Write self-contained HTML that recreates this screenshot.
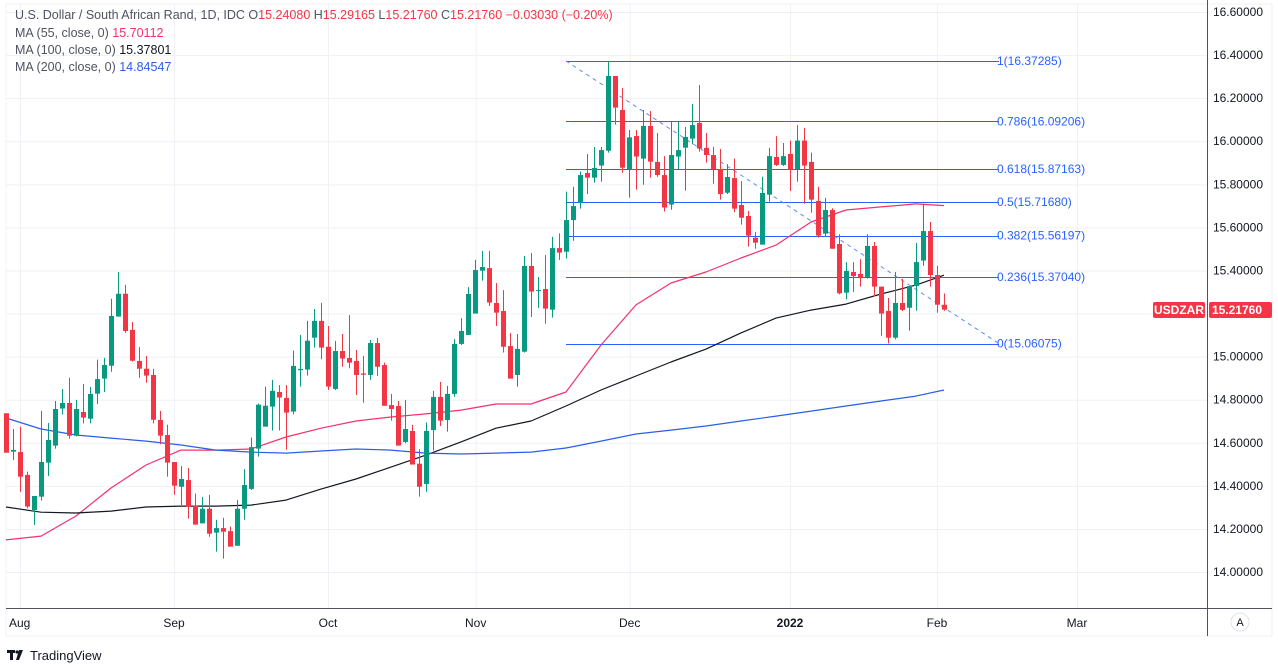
<!DOCTYPE html>
<html><head><meta charset="utf-8">
<style>
html,body{margin:0;padding:0;background:#fff;width:1278px;height:665px;overflow:hidden;font-family:"Liberation Sans",sans-serif;}
svg{position:absolute;left:0;top:0}
text{font-family:"Liberation Sans",sans-serif}
</style></head>
<body>
<svg id="chart" width="1278" height="665">
  <rect x="6" y="4" width="1266" height="632" fill="none" stroke="#eef1f5" stroke-width="1"/>
  <g id="grid"></g>
  <g id="fib"></g>
  <g id="mas"></g>
  <g id="candles"></g>
  <line x1="1207.5" y1="0" x2="1207.5" y2="636" stroke="#50535e" stroke-width="1"/>
  <line x1="6" y1="608.5" x2="1272" y2="608.5" stroke="#50535e" stroke-width="1"/>
  <g id="yaxis"></g>
  <g id="xaxis"></g>
  <rect x="1153" y="302" width="52" height="16" rx="2" fill="#f23645"/>
  <text x="1179" y="314" font-size="12" font-weight="bold" fill="#fff" text-anchor="middle">USDZAR</text>
  <rect x="1209" y="302" width="63" height="16" rx="2" fill="#f23645"/>
  <text x="1262" y="314" font-size="12" font-weight="bold" fill="#fff" text-anchor="end">15.21760</text>
  <circle cx="1240" cy="622" r="9" fill="#fff" stroke="#e0e3eb"/>
  <text x="1240" y="626" font-size="11" fill="#131722" text-anchor="middle">A</text>
  <g font-size="12.5">
    <text x="15" y="19" fill="#50535e">U.S. Dollar / South African Rand, 1D, IDC  O<tspan fill="#f23645">15.24080</tspan>  H<tspan fill="#f23645">15.29165</tspan>  L<tspan fill="#f23645">15.21760</tspan>  C<tspan fill="#f23645">15.21760  −0.03030 (−0.20%)</tspan></text>
    <text x="15" y="37" fill="#50535e">MA (55, close, 0)  <tspan fill="#f7306b">15.70112</tspan></text>
    <text x="15" y="54" fill="#50535e">MA (100, close, 0)  <tspan fill="#131722">15.37801</tspan></text>
    <text x="15" y="71" fill="#50535e">MA (200, close, 0)  <tspan fill="#2a5ee8">14.84547</tspan></text>
  </g>
  <g>
    <rect x="7" y="650" width="8" height="3" fill="#131722"/>
    <rect x="10" y="650" width="3" height="10" fill="#131722"/>
    <circle cx="17" cy="652" r="1.6" fill="#131722"/>
    <polygon points="19,650 23,650 19,660 16,660" fill="#131722"/>
    <text x="30" y="660" font-size="13" fill="#131722">TradingView</text>
  </g>
</svg>
<script>
const opens=[14.737,14.559,14.557,14.451,14.288,14.350,14.508,14.587,14.759,14.785,
14.633,14.743,14.712,14.828,14.898,14.958,15.186,15.292,15.124,14.980,
14.944,14.915,14.706,14.636,14.511,14.396,14.427,14.308,14.226,14.294,
14.183,14.204,14.190,14.122,14.294,14.386,14.573,14.675,14.768,14.836,
14.808,14.745,14.937,14.940,15.088,15.166,15.046,14.850,15.026,14.994,
14.980,14.922,14.915,15.063,14.961,14.775,14.771,14.604,14.655,14.503,
14.409,14.659,14.813,14.706,14.827,15.059,15.101,15.200,15.399,15.411,
15.249,15.212,15.049,14.915,15.023,15.421,15.306,15.314,15.218,15.504,
15.487,15.634,15.716,15.853,15.831,15.887,15.956,16.303,16.145,15.871,
16.024,15.919,16.071,15.904,15.843,15.706,15.929,15.970,16.012,16.085,
15.969,15.936,15.871,15.761,15.829,15.704,15.653,15.552,15.520,15.752,
15.927,15.890,15.941,15.871,16.003,15.904,15.723,15.571,15.681,15.523,
15.297,15.393,15.384,15.370,15.514,15.325,15.212,15.088,15.249,15.227,
15.328,15.446,15.583,15.379,15.241];
const highs=[14.737,14.664,14.675,14.466,14.353,14.748,14.692,14.794,14.850,14.902,
14.799,14.873,14.859,14.986,14.994,15.269,15.393,15.334,15.161,15.045,
15.003,14.943,14.748,14.684,14.511,14.492,14.483,14.364,14.348,14.358,
14.242,14.252,14.211,14.335,14.478,14.624,14.782,14.861,14.892,14.868,
14.868,15.028,15.101,15.166,15.221,15.249,15.142,15.073,15.105,15.193,
15.031,15.003,15.077,15.087,14.972,14.827,14.794,14.799,14.683,14.570,
14.694,14.841,14.882,14.864,15.082,15.179,15.323,15.449,15.491,15.491,
15.342,15.309,15.110,15.105,15.467,15.481,15.370,15.472,15.556,15.572,
15.766,15.789,15.859,15.941,15.973,15.973,16.373,16.303,16.247,16.052,
16.052,16.145,16.140,16.038,15.931,16.091,16.091,16.066,16.173,16.261,
16.038,15.973,15.964,15.894,15.919,15.815,15.676,15.579,15.835,15.969,
16.024,15.992,16.003,16.075,16.062,15.947,15.789,15.737,15.689,15.568,
15.439,15.439,15.453,15.569,15.532,15.325,15.272,15.393,15.361,15.328,
15.528,15.709,15.625,15.422,15.293];
const lows=[14.554,14.520,14.373,14.296,14.219,14.332,14.446,14.573,14.732,14.619,
14.629,14.690,14.690,14.780,14.836,14.930,15.186,15.111,14.977,14.902,
14.879,14.690,14.593,14.443,14.359,14.311,14.248,14.220,14.226,14.164,
14.095,14.062,14.118,14.122,14.243,14.381,14.536,14.675,14.657,14.657,
14.568,14.732,14.861,14.912,15.042,14.988,14.845,14.845,14.953,14.946,
14.822,14.786,14.892,14.910,14.772,14.703,14.587,14.598,14.499,14.350,
14.373,14.564,14.678,14.652,14.814,15.054,15.101,15.200,15.353,15.235,
15.142,15.019,14.898,14.861,15.019,15.184,15.226,15.153,15.181,15.449,
15.456,15.538,15.687,15.755,15.808,15.812,15.947,16.077,15.854,15.738,
15.775,15.798,15.831,15.835,15.673,15.682,15.871,15.771,15.986,15.952,
15.901,15.803,15.729,15.755,15.671,15.613,15.511,15.501,15.520,15.719,
15.885,15.885,15.769,15.812,15.710,15.668,15.552,15.560,15.501,15.289,
15.266,15.300,15.325,15.362,15.279,15.097,15.061,15.080,15.212,15.121,
15.213,15.422,15.325,15.204,15.213];
const closes=[14.554,14.567,14.443,14.304,14.353,14.511,14.613,14.757,14.785,14.633,
14.757,14.717,14.827,14.896,14.961,15.189,15.292,15.119,14.981,14.944,
14.912,14.707,14.633,14.508,14.401,14.432,14.304,14.220,14.294,14.178,
14.204,14.187,14.118,14.294,14.404,14.580,14.777,14.772,14.841,14.810,
14.740,14.957,14.943,15.074,15.166,15.042,14.861,15.026,14.991,14.972,
14.915,14.916,15.063,14.953,14.772,14.757,14.587,14.664,14.499,14.396,
14.655,14.813,14.703,14.827,15.059,15.119,15.291,15.402,15.416,15.251,
15.204,15.046,14.898,15.036,15.421,15.302,15.309,15.223,15.504,15.483,
15.634,15.699,15.843,15.831,15.876,15.959,16.303,16.156,15.877,16.018,
15.929,16.071,15.905,15.843,15.692,15.936,15.959,16.020,16.075,15.966,
15.936,15.871,15.755,15.834,15.687,15.645,15.562,15.529,15.760,15.931,
15.890,15.931,15.871,16.003,15.887,15.729,15.562,15.681,15.501,15.294,
15.398,15.374,15.368,15.514,15.325,15.200,15.088,15.249,15.217,15.328,
15.439,15.583,15.379,15.241,15.218];
const maIndex=[0,5,10,15,20,25,30,35,40,45,50,55,60,65,70,75,80,85,90,95,100,105,110,115,120,125,130,134];
const ma55=[14.149,14.167,14.260,14.390,14.497,14.566,14.566,14.571,14.627,14.668,14.701,14.720,14.734,14.752,14.780,14.780,14.836,15.054,15.240,15.342,15.393,15.458,15.518,15.625,15.681,15.695,15.709,15.701];
const ma100=[14.302,14.278,14.274,14.283,14.302,14.306,14.306,14.311,14.334,14.385,14.432,14.487,14.543,14.604,14.668,14.701,14.771,14.845,14.910,14.975,15.035,15.110,15.179,15.216,15.244,15.291,15.332,15.378];
const ma200=[14.715,14.664,14.636,14.622,14.608,14.590,14.566,14.557,14.552,14.562,14.571,14.566,14.552,14.548,14.552,14.557,14.576,14.608,14.641,14.659,14.678,14.701,14.724,14.747,14.771,14.794,14.817,14.845];
const yTicks=[14.0,14.2,14.4,14.6,14.8,15.0,15.2,15.4,15.6,15.8,16.0,16.2,16.4,16.6];
const monthLabels=["Aug","Sep","Oct","Nov","Dec","2022","Feb","Mar"];
const monthIndex=[2,24,46,67.1,89.1,112,133,153];
const fibRatios=["0","0.236","0.382","0.5","0.618","0.786","1"];
const fibPrices=[15.06075,15.37040,15.56197,15.71680,15.87163,16.09206,16.37285];
const fibStart=80, fibEnd=141;

const NS="http://www.w3.org/2000/svg";
function X(i){return 6+7*i;}
function Y(p){return 12+(16.6-p)*215.4;}
function mk(tag,attrs,parent){const e=document.createElementNS(NS,tag);for(const k in attrs)e.setAttribute(k,attrs[k]);parent.appendChild(e);return e;}

const grid=document.getElementById('grid'),yaxis=document.getElementById('yaxis'),xaxis=document.getElementById('xaxis');
yTicks.forEach(v=>{
  const l=mk('line',{x1:6,x2:1207,y1:Y(v)+0.5,y2:Y(v)+0.5,stroke:'#eef1f5'},grid);
  
  
  const t=mk('text',{x:1263,y:Y(v)+4,'font-size':12,fill:'#131722','text-anchor':'end'},yaxis);
  t.textContent=v.toFixed(5);
  
  
});
monthLabels.forEach((m,k)=>{
  const x=X(monthIndex[k]);
  const l=mk('line',{x1:x+0.5,x2:x+0.5,y1:4,y2:608,stroke:'#eef1f5'},grid);
  
  
  const t=mk('text',{x:k===0?9:x,y:627,'font-size':12,fill:'#131722','text-anchor':k===0?'start':'middle','font-weight':m==='2022'?'bold':'normal'},xaxis);
  t.textContent=m;
  
  
});

const fib=document.getElementById('fib');
fibPrices.forEach((p,k)=>{
  const l=mk('line',{x1:X(fibStart),x2:X(fibEnd)+6,y1:Math.round(Y(p))+0.5,y2:Math.round(Y(p))+0.5,stroke:'#2962ff','stroke-width':1},fib);
  
  
  const t=mk('text',{x:997,y:Y(p)+4,'font-size':12,fill:'#2962ff'},fib);
  t.textContent=fibRatios[k]+'('+p.toFixed(5)+')';
  
  
});
const tl=mk('line',{x1:X(fibStart),y1:Y(fibPrices[6]),x2:X(fibEnd)+6,y2:Y(fibPrices[0]),stroke:'#5b8cf5','stroke-width':1,'stroke-dasharray':'4,4'},fib);



const mas=document.getElementById('mas');
[[ma55,'#f7306b','ma55-line'],[ma100,'#131722','ma100-line'],[ma200,'#2a5ee8','ma200-line']].forEach(([arr,c,n])=>{
  let d='';
  arr.forEach((v,k)=>{d+=(k?'L':'M')+X(maIndex[k]).toFixed(1)+','+Y(v).toFixed(1);});
  const p=mk('path',{d:d,fill:'none',stroke:c,'stroke-width':1.2,'stroke-linejoin':'round'},mas);
  
  
});

const cg=document.getElementById('candles');
opens.forEach((o,i)=>{
  const c=closes[i],up=c>=o,col=up?'#089981':'#f23645',x=X(i);
  const g=mk('g',{},cg);
  
  
  mk('line',{x1:x+0.5,x2:x+0.5,y1:Y(highs[i]),y2:Y(lows[i]),stroke:col,'stroke-width':1},g);
  const top=Y(Math.max(o,c)),bot=Y(Math.min(o,c));
  mk('rect',{x:x-2,y:top,width:5,height:Math.max(1,bot-top),fill:col},g);
});
</script>
</body></html>
